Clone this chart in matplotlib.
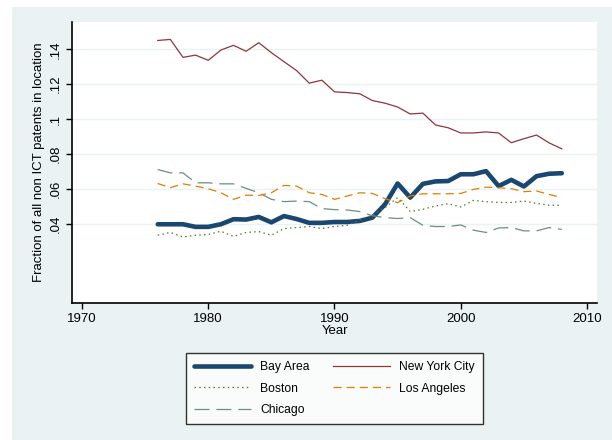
import matplotlib.pyplot as plt
from matplotlib.patches import Rectangle

plt.rcParams['font.family'] = ['Liberation Sans', 'DejaVu Sans']

# Дані
years = list(range(1976, 2009))

bay_area = [.0396, .0396, .0396, .0381, .0381, .0396, .0425, .0423, .0438, .0407,
            .0443, .0426, .0404, .0404, .0409, .0409, .0415, .0434, .0510, .0630,
            .0549, .0628, .0642, .0644, .0683, .0683, .0701, .0615, .0651, .0613,
            .0672, .0686, .0689]

new_york = [.1451, .1457, .1354, .1367, .1337, .1396, .1423, .1389, .1438, .1381,
            .1329, .1278, .1206, .1223, .1156, .1152, .1145, .1106, .1091, .1069,
            .1029, .1034, .0966, .0950, .0920, .0920, .0926, .0920, .0864, .0887,
            .0908, .0863, .0829]

boston = [.0333, .0349, .0323, .0333, .0337, .0356, .0326, .0349, .0354, .0333,
          .0371, .0377, .0383, .0371, .0383, .0390, .0421, .0449, .0491, .0549,
          .0469, .0482, .0501, .0514, .0495, .0533, .0526, .0521, .0521, .0529,
          .0516, .0505, .0505]

los_angeles = [.0630, .0606, .0628, .0615, .0600, .0577, .0539, .0563, .0561, .0577,
               .0619, .0615, .0577, .0567, .0539, .0558, .0577, .0573, .0543, .0520,
               .0558, .0571, .0571, .0571, .0573, .0596, .0609, .0606, .0600, .0583,
               .0587, .0567, .0549]

chicago = [.0710, .0691, .0691, .0634, .0634, .0628, .0628, .0602, .0577, .0539,
           .0526, .0529, .0526, .0486, .0480, .0478, .0469, .0445, .0434, .0429,
           .0434, .0390, .0383, .0383, .0392, .0362, .0349, .0375, .0377, .0358,
           .0358, .0377, .0366]

x_ticks = [1970, 1980, 1990, 2000, 2010]
y_ticks = [.04, .06, .08, .1, .12, .14]
y_tick_labels = ['.04', '.06', '.08', '.1', '.12', '.14']

bg = '#EAF2F3'

fig = plt.figure(figsize=(6.12, 4.40), dpi=100, facecolor='white')
# фон панелі (як у Stata)
fig.patches.append(Rectangle((12 / 612, 0), 1, 1 - 7 / 440, transform=fig.transFigure,
                             facecolor=bg, edgecolor='none', zorder=-10))

ax = fig.add_axes([72 / 612, 1 - 303 / 440, 525 / 612, 281 / 440])
ax.set_facecolor('white')

ax.plot(years, bay_area, color='#1A476F', lw=3.3, label='Bay Area', solid_capstyle='round')
ax.plot(years, boston, color='#55752F', lw=0.9, dashes=(1.2, 2.6), label='Boston')
ax.plot(years, chicago, color='#6E8E84', lw=0.9, dashes=(12, 5.5), label='Chicago')
ax.plot(years, new_york, color='#90353B', lw=0.9, label='New York City')
ax.plot(years, los_angeles, color='#E37E00', lw=0.9, dashes=(6.5, 4), label='Los Angeles')

ax.set_xlim(1969.21, 2010.79)
ax.set_ylim(-0.0056, 0.1557)
ax.set_xticks(x_ticks)
ax.set_yticks(y_ticks)
ax.set_yticklabels(y_tick_labels, rotation=90, va='center')
ax.tick_params(labelsize=9.5, length=4, width=1, direction='out')
ax.grid(axis='y', color=bg, lw=1)
ax.set_axisbelow(True)

for s in ['top', 'right']:
    ax.spines[s].set_visible(False)
for s in ['left', 'bottom']:
    ax.spines[s].set_linewidth(1.2)

ax.set_xlabel('Year', fontsize=9.5, labelpad=0)
ax.set_ylabel('Fraction of all non ICT patents in location', fontsize=9.5, labelpad=3)

leg = fig.legend(loc='upper left', bbox_to_anchor=(186 / 612, 1 - 353 / 440), ncol=2,
                 fontsize=8.7, handlelength=4.7, handletextpad=0.8, columnspacing=1.9,
                 labelspacing=0.8, borderpad=0.65, frameon=True, fancybox=False,
                 borderaxespad=0)
leg.get_frame().set_edgecolor('black')
leg.get_frame().set_linewidth(1)

fig.savefig('out.png', dpi=100, facecolor=fig.get_facecolor())
